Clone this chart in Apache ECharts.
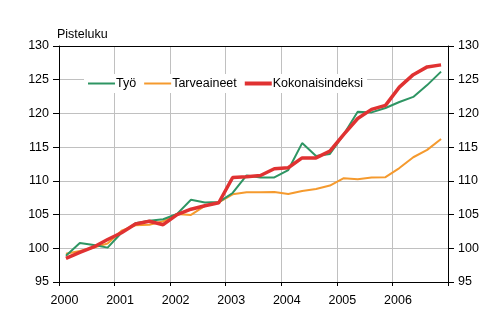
<!DOCTYPE html>
<html>
<head>
<meta charset="utf-8">
<script src="https://cdn.jsdelivr.net/npm/echarts@6/dist/echarts.min.js"></script>
<style>
html,body{margin:0;padding:0;background:#fff;}
#c{width:490px;height:331px;}
</style>
</head>
<body>
<div id="c"></div>
<script>
// Quarterly categories (year, quarter index 0..3)
const years = [2000, 2001, 2002, 2003, 2004, 2005, 2006];
const quarterCategories = [
  '2000Q1','2000Q2','2000Q3','2000Q4',
  '2001Q1','2001Q2','2001Q3','2001Q4',
  '2002Q1','2002Q2','2002Q3','2002Q4',
  '2003Q1','2003Q2','2003Q3','2003Q4',
  '2004Q1','2004Q2','2004Q3','2004Q4',
  '2005Q1','2005Q2','2005Q3','2005Q4',
  '2006Q1','2006Q2','2006Q3','2006Q4'
];
const tyo = [98.9, 100.8, 100.5, 100.1, 102.3, 103.7, 104.1, 104.3,
             105.1, 107.2, 106.8, 106.85, 108.2, 110.8, 110.5, 110.5,
             111.6, 115.6, 113.7, 114.0, 116.9, 120.25, 120.15, 120.8,
             121.7, 122.45, 124.2, 126.2];
const tarveaineet = [99.2, 99.6, 100.1, 100.7, 102.6, 103.4, 103.5, 104.0,
             105.1, 104.95, 106.3, 106.8, 108.0, 108.3, 108.3, 108.35,
             108.05, 108.5, 108.8, 109.3, 110.4, 110.25, 110.5, 110.55,
             111.9, 113.5, 114.6, 116.2];
const kokonais = [98.5, 99.4, 100.2, 101.3, 102.3, 103.6, 104.0, 103.5,
             105.0, 105.8, 106.3, 106.75, 110.5, 110.6, 110.8, 111.8,
             111.95, 113.4, 113.4, 114.4, 116.9, 119.25, 120.6, 121.2,
             123.9, 125.75, 126.9, 127.2];
const seriesNames = ['Työ', 'Tarveaineet', 'Kokonaisindeksi'];
const yTicks = [95, 100, 105, 110, 115, 120, 125, 130];

function toPoints(vals) {
  return vals.map((v, i) => {
    const c = quarterCategories[i];
    const yr = parseInt(c.slice(0, 4), 10);
    const q = parseInt(c.slice(5), 10);
    return [yr + (q - 0.5) / 4, v];
  });
}

const FONT = 'Liberation Sans, Arial, sans-serif';
const FS = 12.5;
const COLORS = ['#2e9563', '#f59a2e', '#e03232'];
const chart = echarts.init(document.getElementById('c'), null, {renderer: 'canvas'});
const yAxisCommon = {
  type: 'value', min: yTicks[0], max: yTicks[yTicks.length - 1], interval: 5,
  axisLine: {show: true, lineStyle: {color: '#000', width: 1}},
  axisTick: {show: true, inside: false, length: 6, lineStyle: {color: '#000'}},
  axisLabel: {color: '#000', fontSize: FS, fontFamily: FONT, margin: 10},
  splitLine: {show: false}
};
chart.setOption({
  animation: false,
  backgroundColor: '#fff',
  title: {
    text: 'Pisteluku', left: 57, top: 28, padding: 0,
    textStyle: {fontSize: FS, fontWeight: 'normal', color: '#000', fontFamily: FONT}
  },
  legend: {
    data: [
      {name: seriesNames[0], icon: 'path://M0,0H27V2H0Z'},
      {name: seriesNames[1], icon: 'path://M0,0H27V2H0Z'},
      {name: seriesNames[2], icon: 'path://M0,0H27V4H0Z'}
    ],
    left: 84, top: 74,
    padding: [3, 4, 3, 4],
    backgroundColor: '#fff',
    itemWidth: 27, itemHeight: 14, itemGap: 8,
    itemStyle: {borderWidth: 0},
    textStyle: {fontSize: FS, color: '#000', fontFamily: FONT, padding: [0, 0, 0, -4]}
  },
  grid: {left: 59, right: 42, top: 46, bottom: 49, containLabel: false},
  xAxis: [{
    type: 'value', min: 2000, max: 2007, interval: 1,
    axisLine: {show: true, onZero: false, lineStyle: {color: '#000'}},
    axisTick: {show: true, length: 4, lineStyle: {color: '#000'}},
    axisLabel: {
      color: '#000', fontSize: FS, fontFamily: FONT, margin: 12,
      padding: [0, 0, 0, 11],
      formatter: v => (years.indexOf(v) >= 0 ? String(v) : '')
    },
    splitLine: {show: true, lineStyle: {color: '#c0c0c0', width: 1}}
  }, {
    type: 'value', min: 2000, max: 2007, position: 'top',
    axisLine: {show: true, onZero: false, lineStyle: {color: '#000'}},
    axisTick: {show: false}, axisLabel: {show: false}, splitLine: {show: false}
  }],
  yAxis: [
    Object.assign({}, yAxisCommon, {
      position: 'left',
      splitLine: {show: true, lineStyle: {color: '#c0c0c0', width: 1}}
    }),
    Object.assign({}, yAxisCommon, {position: 'right'})
  ],
  series: [
    {name: seriesNames[0], type: 'line', data: toPoints(tyo), symbol: 'none', symbolKeepAspect: true,
     lineStyle: {color: COLORS[0], width: 2}, itemStyle: {color: COLORS[0]}, z: 3},
    {name: seriesNames[1], type: 'line', data: toPoints(tarveaineet), symbol: 'none', symbolKeepAspect: true,
     lineStyle: {color: COLORS[1], width: 2}, itemStyle: {color: COLORS[1]}, z: 2},
    {name: seriesNames[2], type: 'line', data: toPoints(kokonais), symbol: 'none', symbolKeepAspect: true,
     lineStyle: {color: COLORS[2], width: 3.5}, itemStyle: {color: COLORS[2]}, z: 4}
  ]
});
</script>
</body>
</html>
